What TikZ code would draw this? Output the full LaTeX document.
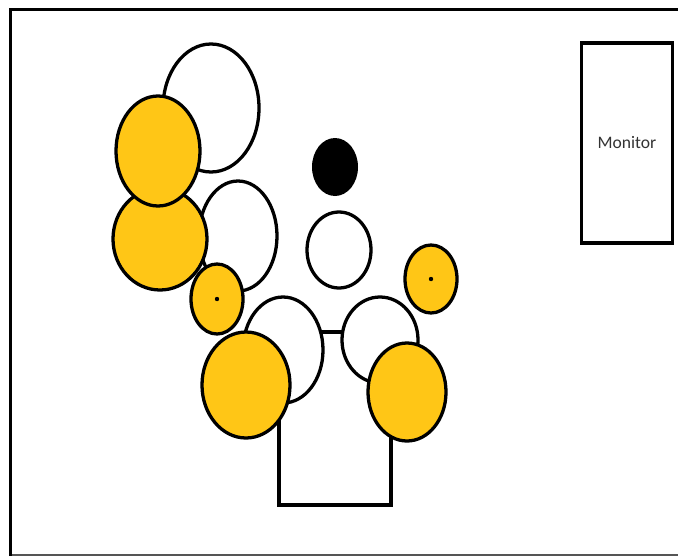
\documentclass[tikz,border=0pt]{standalone}
\usepackage{fontspec}
\setmainfont{Carlito}
\usepackage{tikz}
\usetikzlibrary{positioning}
\definecolor{cym}{RGB}{255,198,22}
\definecolor{frm}{RGB}{85,85,85}

\begin{document}
\begin{tikzpicture}[x=0.03cm,y=-0.03cm,line width=2.8pt]
\tikzset{drum/.style={draw=black,fill=white},
  cym/.style={draw=black,fill=cym},
  pin/.style={fill=black,draw=none}}
\useasboundingbox (0,0) rectangle (678,556);
\fill[white] (0,0) rectangle (678,556);
% frame
\draw[line width=3pt] (10.5,556) -- (10.5,9.5) -- (678,9.5);
\draw[frm,line width=2pt] (12,555) -- (678,555);
% bass drum
\draw[drum] (279,332) rectangle (391,505);
% toms and snare
\draw[drum] (211,108) ellipse [x radius=48,y radius=64];
\draw[drum] (238,236) ellipse [x radius=39,y radius=55];
\draw[drum] (339,250) ellipse [x radius=32,y radius=38];
\draw[drum] (283,350) ellipse [x radius=40,y radius=53];
\draw[drum] (380,340) ellipse [x radius=38,y radius=43];
% kick pedal
\fill[black] (335,167) ellipse [x radius=23,y radius=29];
% cymbals
\draw[cym] (160,239) ellipse [x radius=47,y radius=51];
\draw[cym] (158,151) ellipse [x radius=42,y radius=55];
\draw[cym] (217,299) ellipse [x radius=26,y radius=35];
\fill[pin] (217,299) circle [radius=2.2];
\draw[cym] (431,279) ellipse [x radius=26,y radius=34];
\fill[pin] (431,279) circle [radius=2.2];
\draw[cym] (246,385) ellipse [x radius=44,y radius=53];
\draw[cym] (407,392) ellipse [x radius=39,y radius=49];
% monitor
\node[draw,line width=3pt,minimum width=91*0.03cm,minimum height=200*0.03cm,
  inner sep=0pt,font=\fontsize{15}{17}\selectfont,text=black!80] (mon) at (627,143) {Monitor};
\end{tikzpicture}
\end{document}
